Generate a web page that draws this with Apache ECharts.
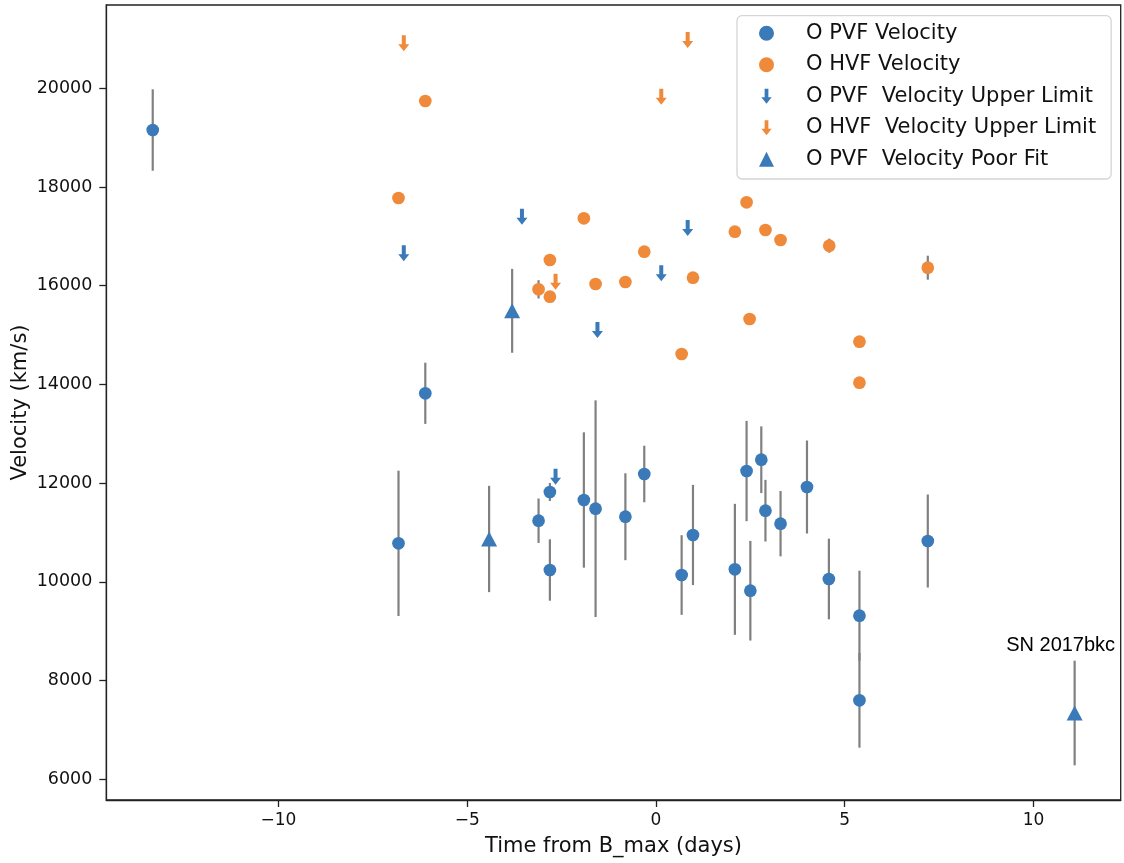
<!DOCTYPE html>
<html><head><meta charset="utf-8">
<script src="https://cdn.jsdelivr.net/npm/echarts@6/dist/echarts.min.js"></script>
<style>html,body{margin:0;padding:0;background:#fff}#c{width:1124px;height:863px}</style>
</head><body><div id="c"></div>
<script>
// ---- data ----
const xTicks = [-10, -5, 0, 5, 10];
const yTicks = [6000, 8000, 10000, 12000, 14000, 16000, 18000, 20000];

const pvfDays = [-13.33, -6.11, -6.82, -3.11, -2.81, -2.81, -1.91, -1.60, -0.81, -0.31, 0.68, 0.98, 2.09, 2.40, 2.50, 2.79, 2.90, 3.30, 4.00, 4.58, 5.39, 5.39, 7.20];
const pvfVel  = [19155, 13820, 10780, 11238, 11820, 10239, 11658, 11482, 11319, 12185, 10138, 10949, 10253, 12245, 9820, 12474, 11441, 11178, 11921, 10057, 9313, 7599, 10827];
const pvfErr  = [825, 620, 1472, 450, 182, 622, 1371, 2195, 881, 573, 807, 1015, 1327, 1016, 1010, 676, 625, 662, 942, 817, 912, 960, 942];

const hvfDays = [-6.11, -6.82, -1.91, 2.40, 2.09, 2.90, 3.30, 4.59, -0.31, -2.81, 7.20, 0.98, -1.60, -0.81, -3.11, -2.81, 2.48, 0.68, 5.39, 5.39];
const hvfVel  = [19743, 17777, 17366, 17690, 17094, 17129, 16926, 16811, 16689, 16521, 16365, 16162, 16035, 16075, 15927, 15777, 15325, 14616, 14865, 14035];
const hvfErr  = [0, 0, 0, 0, 0, 0, 0, 142, 0, 0, 243, 0, 0, 0, 185, 0, 0, 0, 0, 0];

const pvfLimDays = [-6.68, -3.55, 0.84, 0.14, -1.55, -2.66];
const pvfLimVel  = [16657, 17398, 17169, 16251, 15102, 12130];

const hvfLimDays = [-6.68, 0.84, 0.14, -2.66];
const hvfLimVel  = [20912, 20979, 19830, 16081];

const poorDays = [-4.42, -3.81, 11.09];
const poorVel  = [10868, 15491, 7342];
const poorErr  = [1077, 850, 1060];

const annotationText = 'SN 2017bkc';
const annotationIndex = 2;

const names = ['O PVF Velocity', 'O HVF Velocity', 'O PVF  Velocity Upper Limit', 'O HVF  Velocity Upper Limit', 'O PVF  Velocity Poor Fit'];

// ---- styling ----
const BLUE = '#3a7ab8';
const ORANGE = '#f08a3b';
const GRAY = '#808080';
const FONT = 'DejaVu Sans';
const ARROW = 'path://M3.5,0 L7.5,0 L7.5,9 L11,9 L5.5,16 L0,9 L3.5,9 Z';

function errSeries(xs, ys, es) {
  const data = [];
  xs.forEach((x, i) => { if (es[i] > 0) data.push([x, ys[i] - es[i], ys[i] + es[i]]); });
  return {
    type: 'custom', silent: true, z: 1, data,
    encode: { x: 0, y: [1, 2] },
    renderItem: (params, api) => {
      const lo = api.coord([api.value(0), api.value(1)]);
      const hi = api.coord([api.value(0), api.value(2)]);
      return { type: 'line', shape: { x1: lo[0], y1: lo[1], x2: hi[0], y2: hi[1] },
               style: { stroke: GRAY, lineWidth: 2.2 } };
    }
  };
}
const zip = (a, b) => a.map((v, i) => [v, b[i]]);

const poorData = zip(poorDays, poorVel).map((d, i) => i === annotationIndex ? {
  value: d,
  label: { show: true, formatter: annotationText, position: 'top', distance: 50, offset: [-14, 0],
           fontFamily: 'Liberation Sans', fontSize: 20, color: '#000' }
} : d);

const chart = echarts.init(document.getElementById('c'), null, { renderer: 'canvas' });
chart.setOption({
  animation: false,
  backgroundColor: '#fff',
  grid: { left: 106.3, top: 5, right: 3.3, bottom: 63, containLabel: false, outerBoundsMode: 'none',
          show: true, borderColor: '#222', borderWidth: 1.3, backgroundColor: 'transparent' },
  xAxis: {
    type: 'value', min: -14.56, max: 12.31,
    name: 'Time from B_max (days)', nameLocation: 'middle', nameGap: 36, nameMoveOverlap: false,
    nameTextStyle: { fontFamily: FONT, fontSize: 21, color: '#111' },
    axisLine: { show: true, onZero: false, lineStyle: { color: '#222', width: 1.3 } },
    axisTick: { show: true, length: 7, customValues: xTicks, lineStyle: { color: '#222', width: 1.3 } },
    axisLabel: { customValues: xTicks, margin: 12, fontFamily: FONT, fontSize: 17, color: '#111',
                 formatter: v => String(v).replace('-', '\u2212') },
    splitLine: { show: false }
  },
  yAxis: {
    type: 'value', min: 5579, max: 21688,
    name: 'Velocity (km/s)', nameLocation: 'middle', nameGap: 75, nameMoveOverlap: false,
    nameTextStyle: { fontFamily: FONT, fontSize: 21, color: '#111' },
    axisLine: { show: true, onZero: false, lineStyle: { color: '#222', width: 1.3 } },
    axisTick: { show: true, length: 7, customValues: yTicks, lineStyle: { color: '#222', width: 1.3 } },
    axisLabel: { customValues: yTicks, margin: 14, fontFamily: FONT, fontSize: 17.5, color: '#111',
                 formatter: v => String(v) },
    splitLine: { show: false }
  },
  legend: {
    data: names, orient: 'vertical', left: 737, top: 15.7,
    selectedMode: false,
    itemWidth: 15, itemHeight: 15, itemGap: 7.5,
    padding: [5.6, 15, 7.7, 22],
    backgroundColor: 'rgba(255,255,255,0.85)', borderColor: '#d5d5d5', borderWidth: 1.3, borderRadius: 5,
    textStyle: { fontFamily: FONT, fontSize: 21, color: '#111', lineHeight: 24, padding: [0, 0, 0, 27] }
  },
  series: [
    errSeries(pvfDays, pvfVel, pvfErr),
    errSeries(hvfDays, hvfVel, hvfErr),
    errSeries(poorDays, poorVel, poorErr),
    { name: names[0], type: 'scatter', z: 3, symbol: 'circle', symbolSize: 12.7, itemStyle: { color: BLUE, opacity: 1 }, data: zip(pvfDays, pvfVel) },
    { name: names[1], type: 'scatter', z: 3, symbol: 'circle', symbolSize: 12.7, itemStyle: { color: ORANGE, opacity: 1 }, data: zip(hvfDays, hvfVel) },
    { name: names[2], type: 'scatter', z: 3, symbol: ARROW, symbolSize: [11, 16], itemStyle: { color: BLUE, opacity: 1 }, data: zip(pvfLimDays, pvfLimVel) },
    { name: names[3], type: 'scatter', z: 3, symbol: ARROW, symbolSize: [11, 16], itemStyle: { color: ORANGE, opacity: 1 }, data: zip(hvfLimDays, hvfLimVel) },
    { name: names[4], type: 'scatter', z: 3, symbol: 'triangle', symbolSize: [16, 15], itemStyle: { color: BLUE, opacity: 1 }, data: poorData }
  ]
});
</script>
</body></html>
